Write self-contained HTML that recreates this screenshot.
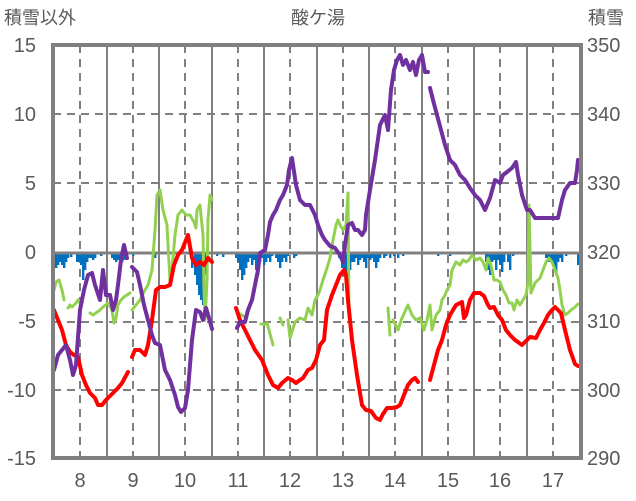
<!DOCTYPE html>
<html><head><meta charset="utf-8"><style>
body{margin:0;background:#fff;}
svg{display:block;font-family:"Liberation Sans","Noto Sans CJK JP",sans-serif;}
</style></head><body>
<svg width="636" height="501" viewBox="0 0 636 501" xmlns="http://www.w3.org/2000/svg">
<rect width="636" height="501" fill="#fff"/>
<g fill="#595959" font-size="20">
<text x="4" y="24" font-size="18">積雪以外</text>
<text x="318" y="24" text-anchor="middle" font-size="18">酸ケ湯</text>
<text x="588" y="24" font-size="18">積雪</text>
<g text-anchor="end">
<text x="36" y="52">15</text><text x="36" y="121">10</text><text x="36" y="190">5</text>
<text x="36" y="259">0</text><text x="36" y="328">-5</text><text x="36" y="397">-10</text><text x="36" y="465">-15</text>
</g>
<g>
<text x="587" y="52">350</text><text x="587" y="121">340</text><text x="587" y="190">330</text>
<text x="587" y="259">320</text><text x="587" y="328">310</text><text x="587" y="397">300</text><text x="587" y="465">290</text>
</g>
<g text-anchor="middle">
<text x="80" y="487">8</text><text x="133" y="487">9</text><text x="185" y="487">10</text><text x="238" y="487">11</text><text x="290" y="487">12</text><text x="343" y="487">13</text><text x="395" y="487">14</text><text x="448" y="487">15</text><text x="500" y="487">16</text><text x="553" y="487">17</text>
</g>
</g>
<g stroke="#808080" stroke-width="2" fill="none">
<g stroke-dasharray="8 6">
<path d="M53 114H581M53 183H581M53 322H581M53 390H581"/>
<path d="M80 45V458M133 45V458M185 45V458M238 45V458M290 45V458M343 45V458M395 45V458M448 45V458M500 45V458M553 45V458"/>
</g>
<path d="M107 45V458M159 45V458M212 45V458M264 45V458M317 45V458M369 45V458M422 45V458M474 45V458M527 45V458"/>
</g>
<path fill="#0070c0" d="M53 253h2.4V268h-2.4zM55 253h2.4V268h-2.4zM57 253h2.4V265h-2.4zM59 253h2.4V262h-2.4zM61 253h2.4V265h-2.4zM63 253h2.4V268h-2.4zM65 253h2.4V262h-2.4zM67 253h2.4V258h-2.4zM70 253h2.4V257h-2.4zM76 253h2.4V262h-2.4zM78 253h2.4V262h-2.4zM80 253h2.4V265h-2.4zM82 253h2.4V280h-2.4zM84 253h2.4V270h-2.4zM86 253h2.4V262h-2.4zM88 253h2.4V258h-2.4zM90 253h2.4V258h-2.4zM92 253h2.4V260h-2.4zM94 253h2.4V258h-2.4zM100 253h2.4V256h-2.4zM111 253h2.4V258h-2.4zM113 253h2.4V260h-2.4zM115 253h2.4V262h-2.4zM117 253h2.4V260h-2.4zM119 253h2.4V258h-2.4zM121 253h2.4V262h-2.4zM123 253h2.4V260h-2.4zM125 253h2.4V256h-2.4zM132 253h2.4V256h-2.4zM154 253h2.4V258h-2.4zM191 253h2.4V268h-2.4zM194 253h2.4V275h-2.4zM196 253h2.4V285h-2.4zM198 253h2.4V295h-2.4zM200 253h2.4V300h-2.4zM202 253h2.4V305h-2.4zM204 253h2.4V275h-2.4zM206 253h2.4V260h-2.4zM216 253h2.4V256h-2.4zM222 253h2.4V257h-2.4zM235 253h2.4V258h-2.4zM237 253h2.4V262h-2.4zM239 253h2.4V270h-2.4zM241 253h2.4V280h-2.4zM243 253h2.4V275h-2.4zM245 253h2.4V268h-2.4zM247 253h2.4V262h-2.4zM249 253h2.4V258h-2.4zM251 253h2.4V265h-2.4zM253 253h2.4V260h-2.4zM255 253h2.4V270h-2.4zM257 253h2.4V275h-2.4zM259 253h2.4V262h-2.4zM261 253h2.4V258h-2.4zM263 253h2.4V265h-2.4zM265 253h2.4V262h-2.4zM267 253h2.4V258h-2.4zM269 253h2.4V262h-2.4zM271 253h2.4V256h-2.4zM275 253h2.4V258h-2.4zM277 253h2.4V262h-2.4zM279 253h2.4V268h-2.4zM281 253h2.4V262h-2.4zM283 253h2.4V258h-2.4zM285 253h2.4V262h-2.4zM287 253h2.4V256h-2.4zM293 253h2.4V258h-2.4zM295 253h2.4V256h-2.4zM338 253h2.4V258h-2.4zM341 253h2.4V268h-2.4zM343 253h2.4V275h-2.4zM345 253h2.4V285h-2.4zM347 253h2.4V290h-2.4zM349 253h2.4V270h-2.4zM351 253h2.4V262h-2.4zM353 253h2.4V262h-2.4zM355 253h2.4V258h-2.4zM357 253h2.4V265h-2.4zM359 253h2.4V260h-2.4zM361 253h2.4V258h-2.4zM363 253h2.4V262h-2.4zM365 253h2.4V268h-2.4zM367 253h2.4V258h-2.4zM369 253h2.4V260h-2.4zM371 253h2.4V258h-2.4zM373 253h2.4V262h-2.4zM375 253h2.4V268h-2.4zM377 253h2.4V262h-2.4zM379 253h2.4V258h-2.4zM383 253h2.4V258h-2.4zM385 253h2.4V256h-2.4zM389 253h2.4V258h-2.4zM393 253h2.4V256h-2.4zM397 253h2.4V258h-2.4zM402 253h2.4V256h-2.4zM437 253h2.4V256h-2.4zM449 253h2.4V256h-2.4zM485 253h2.4V262h-2.4zM487 253h2.4V270h-2.4zM489 253h2.4V275h-2.4zM491 253h2.4V262h-2.4zM493 253h2.4V260h-2.4zM495 253h2.4V270h-2.4zM497 253h2.4V260h-2.4zM499 253h2.4V265h-2.4zM501 253h2.4V272h-2.4zM503 253h2.4V262h-2.4zM507 253h2.4V262h-2.4zM509 253h2.4V270h-2.4zM512 253h2.4V256h-2.4zM545 253h2.4V258h-2.4zM547 253h2.4V262h-2.4zM549 253h2.4V262h-2.4zM551 253h2.4V260h-2.4zM553 253h2.4V270h-2.4zM555 253h2.4V275h-2.4zM557 253h2.4V262h-2.4zM559 253h2.4V258h-2.4zM561 253h2.4V262h-2.4zM565 253h2.4V256h-2.4zM577 253h2.4V265h-2.4z"/>
<path d="M53 253H581" stroke="#808080" stroke-width="3"/>
<g fill="none" stroke-linejoin="round" stroke-linecap="round">
<g stroke="#92d050" stroke-width="3">
<polyline points="54,290 56,282 59,280 62,290 64,300"/>
<polyline points="68,308 70,305 72,307 76,303 78,300 80,303"/>
<polyline points="90,313 93,315 96,313 100,310 103,307 108,303 112,310 114,323 116,318 118,305 121,300 124,297 127,295 130,293"/>
<polyline points="132,310 136,305 140,300 145,290 148,285 152,270 155,230 157,195 160,190 163,210 167,225 168,245 170,280 172,270 175,235 178,215 182,210 186,215 190,215 194,222 196,228 197,210 200,205 202,225 203,235 204,290 205,320 207,280 208,220 210,195 212,200"/>
<polyline points="237,312 245,317"/>
<polyline points="261,324 265,324"/>
<polyline points="267,323 273,345"/>
<polyline points="280,318 283,325"/>
<polyline points="288,320 290,338 295,322 300,318 305,320 308,308 312,315 315,300 318,295 320,290 323,280 327,268 330,258 333,240 336,225 338,220 340,225 343,230 346,225 348,193 349,317"/>
<polyline points="388,308 390,335"/>
<polyline points="393,320 398,330 402,318 408,305 412,315 416,320 420,318 424,330 427,320 430,305 432,330 436,315 440,310 442,300 445,295 447,290 450,285 452,270 456,262 460,265 463,260 466,262 469,260 472,255 476,260 480,258 483,262 486,270 488,258 491,265 494,280 497,280 500,282 503,290 506,295 509,303 512,303 514,310 517,300 520,305 523,300 526,295 528,283 529,205 531,293 535,283 540,278 543,270 546,262 549,258 552,262 555,270 558,278 560,290 562,305 565,315 568,313 571,310 574,308 578,304"/>
</g>
<g stroke="#ff0000" stroke-width="4">
<polyline points="54,310 58,320 62,330 66,345 70,352 74,355 78,357 82,375 86,385 90,393 95,398 98,405 102,405 106,400 110,396 114,392 118,388 122,383 128,372"/>
<polyline points="132,357 135,350 140,350 145,355 148,345 152,320 156,290 160,287 165,287 170,285 174,265 178,255 182,250 186,240 188,235 192,258 196,265 200,262 204,265 208,258 212,262"/>
<polyline points="236,308 240,320 245,330 250,340 255,350 262,360 268,375 273,385 278,388 282,383 288,378 292,380 296,383 300,380 303,378 308,370 312,368 316,360 320,345 324,340 327,310 332,295 336,285 340,275 344,270 346,275 348,300 352,340 357,375 362,405 366,410 371,411 376,418 380,420 383,414 387,408 392,408 397,407 400,405 404,395 408,385 412,380 415,378 418,382"/>
<polyline points="430,380 434,365 438,350 442,340 446,325 450,315 456,305 462,302 464,318 466,315 470,300 474,293 480,293 484,296 488,305 490,308 494,307 498,315 502,320 506,330 510,335 515,340 522,345 530,337 536,338 540,330 544,323 548,315 552,310 555,307 558,310 561,313 565,330 570,350 575,364 578,366"/>
</g>
<g stroke="#7030a0" stroke-width="4">
<polyline points="54,370 58,355 62,350 66,345 70,360 73,375 76,365 80,310 84,290 88,275 92,273 95,285 100,300 103,270 106,295 110,295 113,310 116,300 118,285 121,260 124,245 127,258"/>
<polyline points="132,267 135,270 137,272 140,285 144,305 148,320 152,335 155,343 160,345 165,370 170,380 175,395 178,407 181,412 185,408 188,390 192,340 196,310 200,312 203,320 206,308 209,318 212,329"/>
<polyline points="237,328 240,322 245,322 248,310 252,300 255,285 258,270 260,253 265,250 268,235 270,222 273,215 276,210 280,200 283,195 287,185 289,170 292,158 296,185 300,200 305,205 310,205 315,215 318,225 322,235 325,240 330,246 335,248 340,255 343,262 345,245 348,225 352,223 355,230 358,230 362,235 365,230 366,215 370,190 375,160 380,125 385,115 388,130 391,90 394,70 397,60 400,55 403,65 406,60 410,70 413,62 416,75 419,60 422,55 425,72 428,72"/>
<polyline points="430,88 433,100 437,115 441,130 445,145 450,160 455,165 460,175 465,180 470,188 475,195 480,200 485,210 490,198 495,180 500,183 503,175 507,172 512,168 516,162 518,175 522,195 527,210 530,210 535,218 540,218 550,218 558,218 562,200 565,190 570,183 575,183 577,170 578,160"/>
</g>
</g>
<rect x="53" y="45" width="528" height="413" fill="none" stroke="#808080" stroke-width="4"/>
</svg>
</body></html>
